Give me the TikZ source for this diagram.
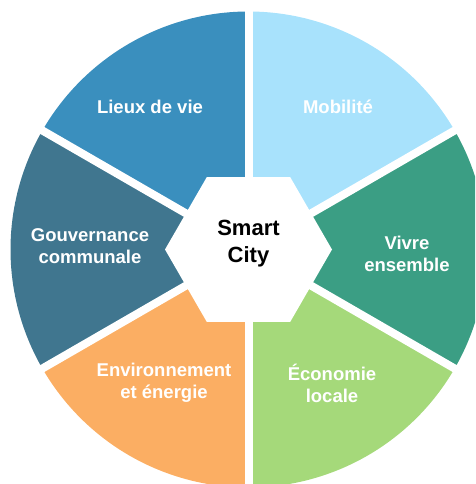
\documentclass[tikz,border=0pt]{standalone}
\usepackage{fontspec}
\setmainfont{Liberation Sans}
\usetikzlibrary{shapes.geometric}
\definecolor{cLieux}{HTML}{3A8FBE}
\definecolor{cMobi}{HTML}{A8E2FC}
\definecolor{cVivre}{HTML}{3B9E84}
\definecolor{cEco}{HTML}{A5D97A}
\definecolor{cEnv}{HTML}{FBAE63}
\definecolor{cGouv}{HTML}{40768F}
\tikzset{
  lbl/.style={text=white, align=center, font=\bfseries\fontsize{18.5}{22}\selectfont, inner sep=0pt},
  gap/.style={white, line width=8pt},
  hexa/.style={regular polygon, regular polygon sides=6, minimum size=167pt, inner sep=0pt, fill=white, draw=none},
}
\begin{document}
\begin{tikzpicture}[x=1pt,y=1pt]
\useasboundingbox (0,0) rectangle (475,-484);
\clip (0,0) rectangle (475,-484);
\coordinate (c) at (248.5,-249.5);
\def\R{238}
\fill[cMobi] (c) -- ++(90:\R) arc[start angle=90, end angle=30, radius=\R] -- cycle;
\fill[cVivre] (c) -- ++(30:\R) arc[start angle=30, end angle=-30, radius=\R] -- cycle;
\fill[cEco] (c) -- ++(-30:\R) arc[start angle=-30, end angle=-90, radius=\R] -- cycle;
\fill[cEnv] (c) -- ++(-90:\R) arc[start angle=-90, end angle=-150, radius=\R] -- cycle;
\fill[cGouv] (c) -- ++(-150:\R) arc[start angle=-150, end angle=-210, radius=\R] -- cycle;
\fill[cLieux] (c) -- ++(150:\R) arc[start angle=150, end angle=90, radius=\R] -- cycle;
\foreach \a in {90,30,-30,-90,-150,150} {
  \draw[gap] (c) -- ++(\a:260);
}
\node[hexa] (hex) at (c) {};
\node[align=center, inner sep=0pt, font=\bfseries\fontsize{22}{27}\selectfont] (smart) at (248.5,-243.5) {Smart\\City};
\node[lbl] (lieux) at (150,-107) {Lieux de vie};
\node[lbl] (mobi) at (338,-107) {Mobilité};
\node[lbl] (gouv) at (90,-246) {Gouvernance\\communale};
\node[lbl] (vivre) at (407,-254) {Vivre\\ensemble};
\node[lbl] (env) at (164,-383) {Environnement\\et énergie};
\node[lbl] (eco) at (332,-383) {Économie\\locale};
\end{tikzpicture}
\end{document}
